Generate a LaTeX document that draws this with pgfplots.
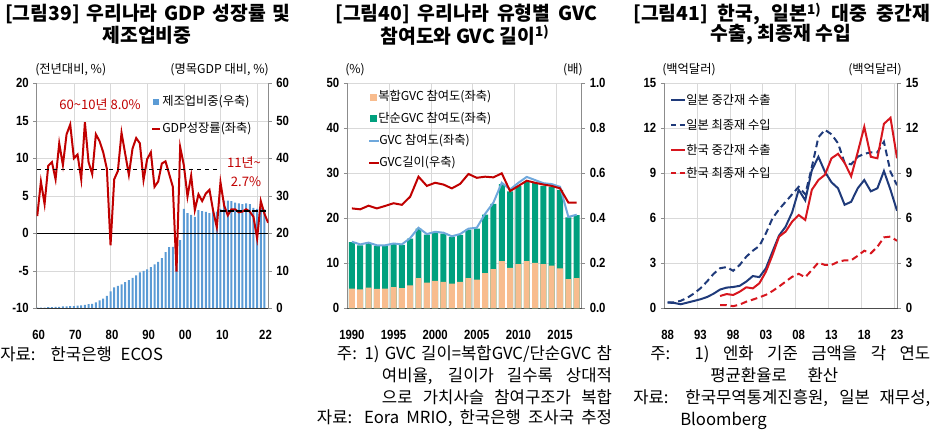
\documentclass[border=0pt]{standalone}
\usepackage{fontspec}
\setmainfont{Noto Sans CJK KR}
\newfontfamily\tickfont[FakeStretch=0.85]{Liberation Sans}
\usepackage{pgfplots}
\pgfplotsset{compat=1.18}
\definecolor{gdpred}{HTML}{C00000}
\definecolor{barblue}{HTML}{5B9BD5}
\definecolor{peach}{HTML}{F8BC8E}
\definecolor{gvcgreen}{HTML}{00A07E}
\definecolor{gvcblue}{HTML}{6FA8DC}
\definecolor{navy}{HTML}{1F3A7A}
\definecolor{krred}{HTML}{D7161E}
\definecolor{gridgray}{HTML}{D9D9D9}
\definecolor{axgray}{HTML}{8C8C8C}
\pgfplotsset{
  base/.style={scale only axis, height=168.75pt, anchor=south west,
    ticklabel style={font=\tickfont\bfseries\fontsize{10}{11}\selectfont},
    /pgf/number format/assume math mode=true,
    /pgf/number format/1000 sep={},
    tick align=outside, major tick length=2.5pt, tick style={axgray, thin},
    major x tick style={draw=none}, minor tick length=0pt,
    grid style={gridgray, thin}, minor grid style={gridgray, thin},
    axis line style={axgray},
    xticklabel style={yshift=-10.5pt},
  },
}
\newcommand\tfont{\fontsize{14.5}{16}\selectfont\bfseries}
\newcommand\ffont{\fontsize{12.5}{14}\selectfont}
\newcommand\lfont{\fontsize{9.2}{10}\selectfont}
\begin{document}
\begin{tikzpicture}
\begin{scope}[x=0.75pt,y=-0.75pt]
\path[use as bounding box] (0,0) rectangle (935,433);
\end{scope}

%================ Panel 1 =================
\begin{axis}[base, at={(27.525pt,-231.225pt)}, width=173.7pt,
  xmin=1959.85, xmax=2023.05, ymin=0, ymax=60,
  axis y line*=right, axis x line*=bottom, x axis line style={draw=none},
  ytick={0,10,...,60}, xtick={1970,1980,1990,2000,2010,2020}, xticklabels={},
  xmajorgrids, ymajorgrids]
\addplot[ybar, bar width=0.55, bar shift=0pt, fill=barblue, draw=none] coordinates {
(1960,0.2)(1961,0.2)(1962,0.2)(1963,0.3)(1964,0.3)(1965,0.4)(1966,0.4)(1967,0.5)(1968,0.5)(1969,0.6)
(1970,0.6)(1971,0.7)(1972,0.8)(1973,0.9)(1974,1.1)(1975,1.2)(1976,1.6)(1977,2.1)(1978,2.6)(1979,3.3)
(1980,4.5)(1981,5.6)(1982,6.0)(1983,6.4)(1984,7.0)(1985,7.5)(1986,8.1)(1987,8.8)(1988,9.6)(1989,10.0)
(1990,10.4)(1991,11.0)(1992,11.7)(1993,12.4)(1994,13.4)(1995,15.0)(1996,16.3)(1997,16.4)(1998,17.2)(1999,18.2)
(2000,26.5)(2001,25.4)(2002,24.9)(2003,24.4)(2004,26.2)(2005,25.9)(2006,25.7)(2007,25.4)(2008,25.8)(2009,25.8)
(2010,26.5)(2011,28.7)(2012,28.7)(2013,28.6)(2014,28.2)(2015,28.0)(2016,27.8)(2017,28.0)(2018,27.8)(2019,26.8)
(2020,26.5)(2021,26.7)(2022,26.4)};
\end{axis}
\begin{axis}[base, at={(27.525pt,-231.225pt)}, width=173.7pt,
  xmin=1959.85, xmax=2023.05, ymin=-10, ymax=20,
  axis y line*=left, axis x line*=bottom, x axis line style={black!80},
  ytick={-10,-5,...,20},
  xtick={1960.4,1970.4,1980.4,1990.4,2000.4,2010.5,2022.3},
  xticklabels={60,70,80,90,00,10,22}]
\addplot[black, thin] coordinates {(1959.85,0) (2023.05,0)};
\addplot[gdpred, line width=1.5pt] coordinates {
(1960,2.3)(1961,6.9)(1962,3.9)(1963,9.0)(1964,9.5)(1965,7.2)(1966,12.0)(1967,9.1)(1968,13.2)(1969,14.5)
(1970,10.0)(1971,10.5)(1972,7.2)(1973,14.8)(1974,9.5)(1975,7.9)(1976,13.2)(1977,12.3)(1978,10.8)(1979,8.6)
(1980,-1.6)(1981,7.2)(1982,8.3)(1983,13.4)(1984,10.6)(1985,7.8)(1986,11.3)(1987,12.7)(1988,12.0)(1989,7.1)
(1990,9.9)(1991,10.8)(1992,6.2)(1993,6.9)(1994,9.3)(1995,9.6)(1996,7.9)(1997,6.2)(1998,-5.1)(1999,11.5)
(2000,9.1)(2001,4.9)(2002,7.7)(2003,3.1)(2004,5.2)(2005,4.3)(2006,5.3)(2007,5.8)(2008,3.0)(2009,0.8)
(2010,6.8)(2011,3.7)(2012,2.4)(2013,3.2)(2014,3.2)(2015,2.8)(2016,2.9)(2017,3.2)(2018,2.9)(2019,2.2)
(2020,-0.7)(2021,4.3)(2022,2.6)(2023,1.4)};
\addplot[black, dashed, thick] coordinates {(1960,8.5)(2010,8.5)};
\addplot[black, dash pattern=on 4pt off 2pt, line width=1.2pt] coordinates {(2010,3.0)(2023,3.0)};
\end{axis}

%================ Panel 2 =================
\begin{axis}[base, at={(260.475pt,-231.225pt)}, width=175.8pt,
  xmin=1989.45, xmax=2017.6, ymin=0, ymax=50,
  axis y line*=left, axis x line*=bottom, x axis line style={black!70},
  ytick={0,10,...,50}, ymajorgrids,
  xtick={1990,1995,2000,2005,2010,2015},
  xticklabels={1990,1995,2000,2005,2010,2015},
  minor xtick={1994.5,1999.5,2004.5,2009.5,2014.5}, xminorgrids]
\addplot[ybar, bar width=0.72, bar shift=0pt, fill=gvcgreen, draw=none] coordinates {
(1990,14.7)(1991,14.0)(1992,14.5)(1993,13.8)(1994,13.8)(1995,14.3)(1996,14.1)(1997,15.5)(1998,17.7)(1999,16.4)
(2000,16.9)(2001,16.6)(2002,15.8)(2003,16.3)(2004,17.5)(2005,17.7)(2006,20.8)(2007,23.2)(2008,27.6)(2009,26.0)
(2010,27.2)(2011,28.2)(2012,27.8)(2013,27.2)(2014,27.0)(2015,26.3)(2016,20.2)(2017,20.7)};
\addplot[ybar, bar width=0.72, bar shift=0pt, fill=peach, draw=none] coordinates {
(1990,4.4)(1991,4.2)(1992,4.6)(1993,4.3)(1994,4.4)(1995,4.7)(1996,4.5)(1997,5.1)(1998,6.7)(1999,5.7)
(2000,6.1)(2001,5.9)(2002,5.5)(2003,5.9)(2004,6.7)(2005,6.4)(2006,7.8)(2007,8.7)(2008,10.5)(2009,9.0)
(2010,9.8)(2011,10.5)(2012,10.1)(2013,9.8)(2014,9.5)(2015,8.9)(2016,6.5)(2017,6.7)};
\addplot[gvcblue, line width=1.5pt] coordinates {
(1990,14.8)(1991,14.2)(1992,14.6)(1993,14.0)(1994,14.0)(1995,14.4)(1996,14.2)(1997,15.6)(1998,17.9)(1999,16.5)
(2000,17.0)(2001,16.8)(2002,16.0)(2003,16.5)(2004,17.7)(2005,17.9)(2006,21.0)(2007,23.5)(2008,27.9)(2009,26.4)
(2010,27.9)(2011,29.2)(2012,28.5)(2013,27.8)(2014,27.6)(2015,27.0)(2016,20.3)(2017,20.8)};
\end{axis}
\begin{axis}[base, at={(260.475pt,-231.225pt)}, width=175.8pt,
  xmin=1989.45, xmax=2017.6, ymin=0, ymax=1,
  axis y line*=right, axis x line=none,
  ytick={0,0.2,...,1.0},
  yticklabel style={/pgf/number format/.cd, fixed, fixed zerofill, precision=1}]
\addplot[gdpred, line width=1.5pt] coordinates {
(1990,0.444)(1991,0.440)(1992,0.456)(1993,0.444)(1994,0.455)(1995,0.467)(1996,0.460)(1997,0.496)(1998,0.585)(1999,0.544)
(2000,0.558)(2001,0.550)(2002,0.533)(2003,0.553)(2004,0.597)(2005,0.580)(2006,0.585)(2007,0.582)(2008,0.600)(2009,0.521)
(2010,0.544)(2011,0.567)(2012,0.558)(2013,0.550)(2014,0.544)(2015,0.533)(2016,0.470)(2017,0.470)};
\end{axis}

%================ Panel 3 =================
\begin{axis}[base, at={(498.225pt,-231.225pt)}, width=175.05pt,
  xmin=1987.5, xmax=2023.1, ymin=0, ymax=15,
  axis y line*=left, axis x line*=bottom, x axis line style={black!70},
  ytick={0,3,...,15}, ymajorgrids,
  xtick={1988,1993,1998,2003,2008,2013,2018,2023},
  xticklabels={88,93,98,03,08,13,18,23},
  minor xtick={1992.5,1997.5,2002.5,2007.5,2012.5,2017.5,2022.5}, xminorgrids]
\addplot[navy, line width=1.5pt, dash pattern=on 5pt off 3pt] coordinates {
(1988,0.40)(1989,0.40)(1990,0.50)(1991,0.70)(1992,0.98)(1993,1.33)(1994,1.78)(1995,2.29)(1996,2.67)(1997,2.75)
(1998,2.50)(1999,2.89)(2000,3.44)(2001,3.84)(2002,4.16)(2003,5.00)(2004,6.00)(2005,6.60)(2006,7.10)(2007,7.60)
(2008,8.10)(2009,7.60)(2010,9.40)(2011,11.4)(2012,11.9)(2013,11.6)(2014,11.0)(2015,9.70)(2016,9.60)(2017,10.1)
(2018,10.3)(2019,10.4)(2020,10.4)(2021,11.1)(2022,9.10)(2023,8.20)};
\addplot[navy, line width=1.5pt] coordinates {
(1988,0.38)(1989,0.36)(1990,0.27)(1991,0.38)(1992,0.49)(1993,0.60)(1994,0.75)(1995,0.97)(1996,1.25)(1997,1.38)
(1998,1.42)(1999,1.50)(2000,1.78)(2001,2.15)(2002,2.08)(2003,2.67)(2004,3.78)(2005,4.85)(2006,5.44)(2007,6.40)
(2008,7.90)(2009,7.20)(2010,9.20)(2011,10.1)(2012,9.10)(2013,8.40)(2014,8.00)(2015,6.90)(2016,7.10)(2017,8.00)
(2018,8.55)(2019,7.80)(2020,8.00)(2021,9.15)(2022,7.90)(2023,6.50)};
\addplot[krred, line width=1.5pt, dash pattern=on 5pt off 3pt] coordinates {
(1996,0.22)(1997,0.22)(1998,0.14)(1999,0.25)(2000,0.44)(2001,0.58)(2002,0.73)(2003,0.90)(2004,1.15)(2005,1.45)
(2006,1.78)(2007,2.10)(2008,2.30)(2009,2.07)(2010,2.55)(2011,3.05)(2012,2.89)(2013,2.89)(2014,3.10)(2015,3.20)
(2016,3.20)(2017,3.50)(2018,3.84)(2019,3.67)(2020,4.10)(2021,4.73)(2022,4.78)(2023,4.50)};
\addplot[krred, line width=1.5pt] coordinates {
(1996,0.82)(1997,0.95)(1998,0.89)(1999,1.11)(2000,1.40)(2001,1.33)(2002,1.67)(2003,2.44)(2004,3.55)(2005,4.78)
(2006,5.11)(2007,5.78)(2008,6.22)(2009,5.89)(2010,7.90)(2011,8.55)(2012,8.90)(2013,10.0)(2014,10.3)(2015,9.70)
(2016,8.80)(2017,10.4)(2018,12.1)(2019,10.1)(2020,10.0)(2021,12.3)(2022,12.7)(2023,10.0)};
\end{axis}
\begin{axis}[base, at={(498.225pt,-231.225pt)}, width=175.05pt,
  xmin=1987.5, xmax=2023.1, ymin=0, ymax=15,
  axis y line*=right, axis x line=none, ytick={0,3,...,15}]
\end{axis}

\begin{scope}[x=0.75pt,y=-0.75pt]
% panel 1 texts
\node[anchor=west, inner sep=0] at (5,14) {\makebox[213.75pt][s]{\tfont [그림39] 우리나라 GDP 성장률 및}};
\node[inner sep=0] at (147,35) {\tfont 제조업비중};
\node[anchor=west, inner sep=0] at (35,70) {\lfont (전년대비, \%)};
\node[anchor=east, inner sep=0] at (269,70) {\lfont (명목GDP 대비, \%)};
\fill[barblue] (153,99) rectangle (159,105);
\node[anchor=west, inner sep=0] at (162,102) {\lfont 제조업비중(우축)};
\draw[gdpred, line width=1.5pt] (152,129) -- (160,129);
\node[anchor=west, inner sep=0] at (162,129) {\lfont GDP성장률(좌축)};
\node[inner sep=0, text=gdpred] at (100,104) {\fontsize{9.8}{11}\selectfont 60\textasciitilde10년 8.0\%};
\node[inner sep=0, text=gdpred] at (244,162) {\fontsize{9.8}{11}\selectfont 11년\textasciitilde};
\node[inner sep=0, text=gdpred] at (246,182) {\fontsize{9.8}{11}\selectfont 2.7\%};
\node[anchor=west, inner sep=0] at (0,354) {\makebox[122pt][s]{\ffont 자료: 한국은행 ECOS}};
% panel 2 texts
\node[anchor=west, inner sep=0] at (335,14) {\makebox[196.5pt][s]{\tfont [그림40] 우리나라 유형별 GVC}};
\node[inner sep=0] at (465,35) {\tfont 참여도와 GVC 길이\textsuperscript{1)}};
\node[anchor=west, inner sep=0] at (345,70) {\lfont (\%)};
\node[anchor=east, inner sep=0] at (583,70) {\lfont (배)};
\fill[peach] (370,93.5) rectangle (377,100.5);
\node[anchor=west, inner sep=0] at (378,97) {\lfont 복합GVC 참여도(좌축)};
\fill[gvcgreen] (370,115) rectangle (377,122);
\node[anchor=west, inner sep=0] at (378,118.5) {\lfont 단순GVC 참여도(좌축)};
\draw[gvcblue, line width=1.5pt] (369,141) -- (379,141);
\node[anchor=west, inner sep=0] at (379,141) {\lfont GVC 참여도(좌축)};
\draw[gdpred, line width=1.5pt] (369,163) -- (379,163);
\node[anchor=west, inner sep=0] at (379,163) {\lfont GVC길이(우축)};
\node[anchor=west, inner sep=0] at (336.7,354) {\makebox[206.25pt][s]{\ffont 주: 1) GVC 길이=복합GVC/단순GVC 참}};
\node[anchor=west, inner sep=0] at (381.7,376) {\makebox[172.5pt][s]{\ffont 여비율, 길이가 길수록 상대적}};
\node[anchor=west, inner sep=0] at (381.7,397) {\makebox[172.5pt][s]{\ffont 으로 가치사슬 참여구조가 복합}};
\node[anchor=west, inner sep=0] at (316.7,418) {\makebox[221.25pt][s]{\ffont 자료: Eora MRIO, 한국은행 조사국 추정}};
% panel 3 texts
\node[anchor=west, inner sep=0] at (633,14) {\makebox[222.75pt][s]{\tfont [그림41] 한국, 일본\textsuperscript{1)} 대중 중간재}};
\node[inner sep=0] at (781,35) {\tfont 수출, 최종재 수입};
\node[anchor=west, inner sep=0] at (662,70) {\lfont (백억달러)};
\node[anchor=east, inner sep=0] at (902,70) {\lfont (백억달러)};
\draw[navy, line width=1.5pt] (671,100) -- (685,100);
\node[anchor=west, inner sep=0] at (686,100) {\lfont 일본 중간재 수출};
\draw[navy, line width=1.5pt, dash pattern=on 4pt off 2.5pt] (671,125) -- (685,125);
\node[anchor=west, inner sep=0] at (686,125) {\lfont 일본 최종재 수입};
\draw[krred, line width=1.5pt] (671,150) -- (685,150);
\node[anchor=west, inner sep=0] at (686,150) {\lfont 한국 중간재 수출};
\draw[krred, line width=1.5pt, dash pattern=on 4pt off 2.5pt] (671,173) -- (685,173);
\node[anchor=west, inner sep=0] at (686,173) {\lfont 한국 최종재 수입};
\node[anchor=west, inner sep=0] at (650,354) {\makebox[210pt][s]{\ffont 주: 1) 엔화 기준 금액을 각 연도}};
\node[anchor=west, inner sep=0] at (710,375) {\makebox[96pt][s]{\ffont 평균환율로 환산}};
\node[anchor=west, inner sep=0] at (633,398) {\makebox[222.75pt][s]{\ffont 자료: 한국무역통계진흥원, 일본 재무성,}};
\node[anchor=west, inner sep=0] at (680,421) {\ffont Bloomberg};
\end{scope}
\end{tikzpicture}
\end{document}
